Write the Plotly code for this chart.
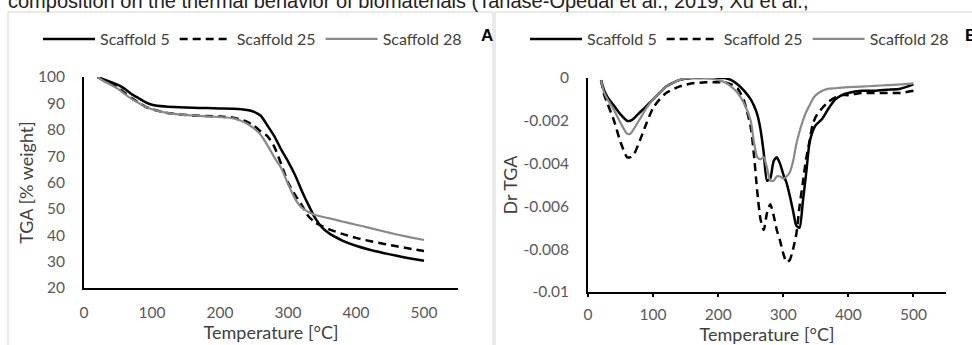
import plotly.graph_objects as go

W, H = 972, 345

# ---------------- data ----------------
series_names = ["Scaffold 5", "Scaffold 25", "Scaffold 28"]

temp_tga = [20, 30, 40, 50, 60, 70, 80, 90, 100, 120, 140, 160, 180, 200, 220, 240, 250, 260,
            270, 280, 290, 300, 310, 320, 330, 340, 350, 360, 380, 400, 420, 440, 460, 480, 500]
tga_s5 = [100, 99, 98, 97, 95.5, 93.5, 92, 90.5, 89.5, 88.8, 88.5, 88.3, 88.2, 88.1, 88, 87.5, 86.8, 85.3,
          81.5, 77.5, 72.5, 68, 63, 57, 51.5, 46.5, 43, 40.8, 38, 36, 34.5, 33.3, 32.2, 31.2, 30.3]
tga_s25 = [100, 98.5, 97.3, 96, 94, 92, 90.3, 88.8, 87.8, 86.5, 85.8, 85.4, 85.2, 85, 84.6, 83, 81.5, 79.3,
           77.5, 73.5, 67, 60, 55.5, 51.5, 47.2, 44.8, 43.5, 42.3, 40.5, 39, 37.8, 36.8, 35.8, 34.9, 34]
tga_s28 = [100, 98.3, 97, 95.5, 93.5, 91.7, 90.2, 88.8, 87.8, 86.5, 85.8, 85.4, 85.1, 84.8, 84.3, 82.3, 80.5, 78,
           74, 69.5, 65.5, 59.5, 54, 50.5, 48.8, 47.7, 47, 46.5, 45.2, 44, 42.8, 41.5, 40.3, 39.2, 38.2]

temp_dtg = [20, 25, 30, 40, 50, 60, 65, 70, 80, 90, 100, 110, 120, 140, 160, 180, 200, 210, 220, 230,
            240, 250, 255, 260, 265, 270, 275, 280, 285, 290, 295, 300, 305, 310, 315, 320, 325, 330,
            335, 340, 345, 350, 360, 370, 380, 390, 400, 420, 440, 460, 480, 500]
dtg_s5 = [-0.0001, -0.0006, -0.0009, -0.0013, -0.0017, -0.0020, -0.0020, -0.0019, -0.0016, -0.0013,
          -0.0010, -0.0007, -0.0004, -0.0001, 0, 0, 0, 0, -0.0001, -0.0003,
          -0.0006, -0.0010, -0.0013, -0.0017, -0.0024, -0.0035, -0.0048, -0.0047, -0.0039, -0.0037,
          -0.0040, -0.0045, -0.0049, -0.0055, -0.0062, -0.0069, -0.0070, -0.0058,
          -0.0045, -0.0031, -0.0025, -0.0022, -0.0019, -0.0014, -0.0010, -0.0008, -0.0007,
          -0.0006, -0.0006, -0.00055, -0.0005, -0.0003]
dtg_s25 = [-0.0001, -0.0008, -0.0012, -0.0020, -0.0030, -0.0037, -0.0037, -0.0036, -0.0029, -0.0021,
           -0.0014, -0.0010, -0.0007, -0.0004, -0.00025, -0.0002, -0.0002, -0.0002, -0.0003, -0.0005,
           -0.0011, -0.0023, -0.0036, -0.0053, -0.0066, -0.0071, -0.0063, -0.0059, -0.0064, -0.0071,
           -0.0076, -0.0082, -0.0086, -0.0085, -0.0080, -0.0073, -0.0060, -0.0049,
           -0.0038, -0.0030, -0.0022, -0.0018, -0.0014, -0.0011, -0.0009, -0.0008, -0.0008,
           -0.0007, -0.0007, -0.0007, -0.0007, -0.0006]
dtg_s28 = [-0.0001, -0.0007, -0.0010, -0.0015, -0.0021, -0.0026, -0.0026, -0.0024, -0.0019, -0.0014,
           -0.0010, -0.0007, -0.0004, -0.0001, 0, 0, -0.0001, -0.0002, -0.0004, -0.0007,
           -0.0012, -0.0020, -0.0030, -0.0037, -0.0038, -0.0037, -0.0042, -0.0048, -0.0048, -0.0046,
           -0.0046, -0.0047, -0.0046, -0.0044, -0.0039, -0.0031, -0.0025, -0.0020,
           -0.0016, -0.0013, -0.0010, -0.0008, -0.0006, -0.0005, -0.00048, -0.00045, -0.00043,
           -0.0004, -0.00037, -0.00033, -0.0003, -0.00025]

x_ticks = [0, 100, 200, 300, 400, 500]
tga_ticks = [20, 30, 40, 50, 60, 70, 80, 90, 100]
dtg_ticks = [0, -0.002, -0.004, -0.006, -0.008, -0.01]
dtg_tick_text = ["0", "-0.002", "-0.004", "-0.006", "-0.008", "-0.01"]

# ---------------- styling ----------------
FONT = "Lato"
styles = [
    dict(color="black", width=2.5, dash="solid"),
    dict(color="black", width=2.5, dash="8px,5px"),
    dict(color="#8a8a8a", width=2.2, dash="solid"),
]

fig = go.Figure()
for name, ys, st in zip(series_names, [tga_s5, tga_s25, tga_s28], styles):
    fig.add_trace(go.Scatter(x=temp_tga, y=ys, mode="lines", name=name,
                             line=dict(shape="spline", smoothing=0.6, **st),
                             xaxis="x", yaxis="y", legend="legend"))
for name, ys, st in zip(series_names, [dtg_s5, dtg_s25, dtg_s28], styles):
    fig.add_trace(go.Scatter(x=temp_dtg, y=ys, mode="lines", name=name,
                             line=dict(shape="spline", smoothing=0.6, **st),
                             xaxis="x2", yaxis="y2", legend="legend2"))


def px_x(p):
    return p / W


def px_y(p):
    return 1 - p / H


tick_font = dict(family=FONT, size=15.5, color="#595959")
title_font = dict(family=FONT, size=18, color="#404040")
legend_font = dict(family=FONT, size=16, color="#404040")

common_x = dict(range=[0, 550], tickvals=x_ticks, showgrid=False, zeroline=False, showline=True,
                linecolor="black", linewidth=1.8, tickfont=tick_font, automargin=False)
common_y = dict(showgrid=False, zeroline=False, showline=True, linecolor="black", linewidth=1.8,
                tickfont=tick_font, ticklabelstandoff=14, automargin=False, ticks="")

fig.update_layout(
    template="none",
    width=W, height=H, margin=dict(l=0, r=0, t=0, b=0, autoexpand=False),
    paper_bgcolor="white", plot_bgcolor="white",
    xaxis=dict(domain=[px_x(84), px_x(458)], anchor="y", ticks="", ticklabelstandoff=9,
               title=dict(text="Temperature [°C]", font=title_font, standoff=7), **common_x),
    yaxis=dict(domain=[px_y(288), px_y(77)], anchor="x", range=[20, 100], tickvals=tga_ticks,
               title=dict(text="TGA [% weight]", font=title_font, standoff=0), **common_y),
    xaxis2=dict(domain=[px_x(588), px_x(946)], anchor="y2", ticks="outside", ticklen=3,
                tickcolor="black", tickwidth=1.5, ticklabelstandoff=4,
                title=dict(text="Temperature [°C]", font=title_font, standoff=8), **common_x),
    yaxis2=dict(domain=[px_y(292), px_y(78)], anchor="x2", range=[-0.01, 0], tickvals=dtg_ticks,
                ticktext=dtg_tick_text,
                title=dict(text="Dr TGA", font=title_font, standoff=1), **common_y),
    legend=dict(orientation="h", x=px_x(38), y=px_y(22), xanchor="left", yanchor="top",
                font=legend_font, itemwidth=52, bgcolor="rgba(0,0,0,0)", borderwidth=0),
    legend2=dict(orientation="h", x=px_x(525), y=px_y(22), xanchor="left", yanchor="top",
                 font=legend_font, itemwidth=52, bgcolor="rgba(0,0,0,0)", borderwidth=0),
    showlegend=True,
)

# panel frames
fig.add_shape(type="rect", xref="paper", yref="paper", x0=px_x(8), x1=px_x(493), y0=-0.2, y1=px_y(12),
              line=dict(color="#d4d4d4", width=1), layer="below")
fig.add_shape(type="rect", xref="paper", yref="paper", x0=px_x(495), x1=1.2, y0=-0.2, y1=px_y(12),
              line=dict(color="#d4d4d4", width=1), layer="below")

# caption (cut off at top) and panel letters
fig.add_annotation(text="composition on the thermal behavior of biomaterials (Tanase-Opedal et al., 2019; Xu et al.,",
                   xref="paper", yref="paper", x=px_x(6), y=px_y(14), xanchor="left", yanchor="bottom",
                   showarrow=False, font=dict(family="Liberation Sans", size=20, color="#222222"))
fig.add_annotation(text="<b>A</b>", xref="paper", yref="paper", x=px_x(487), y=px_y(35),
                   xanchor="center", yanchor="middle", showarrow=False,
                   font=dict(family="Liberation Sans", size=17, color="black"))
fig.add_annotation(text="<b>B</b>", xref="paper", yref="paper", x=px_x(963), y=px_y(35),
                   xanchor="left", yanchor="middle", showarrow=False,
                   font=dict(family="Liberation Sans", size=17, color="black"))

# the page body has a default 8px margin; remove it so the figure sits at the window's corner
fig.write_html("out.html", config={"displayModeBar": False},
               post_script="document.body.style.margin='0';")
